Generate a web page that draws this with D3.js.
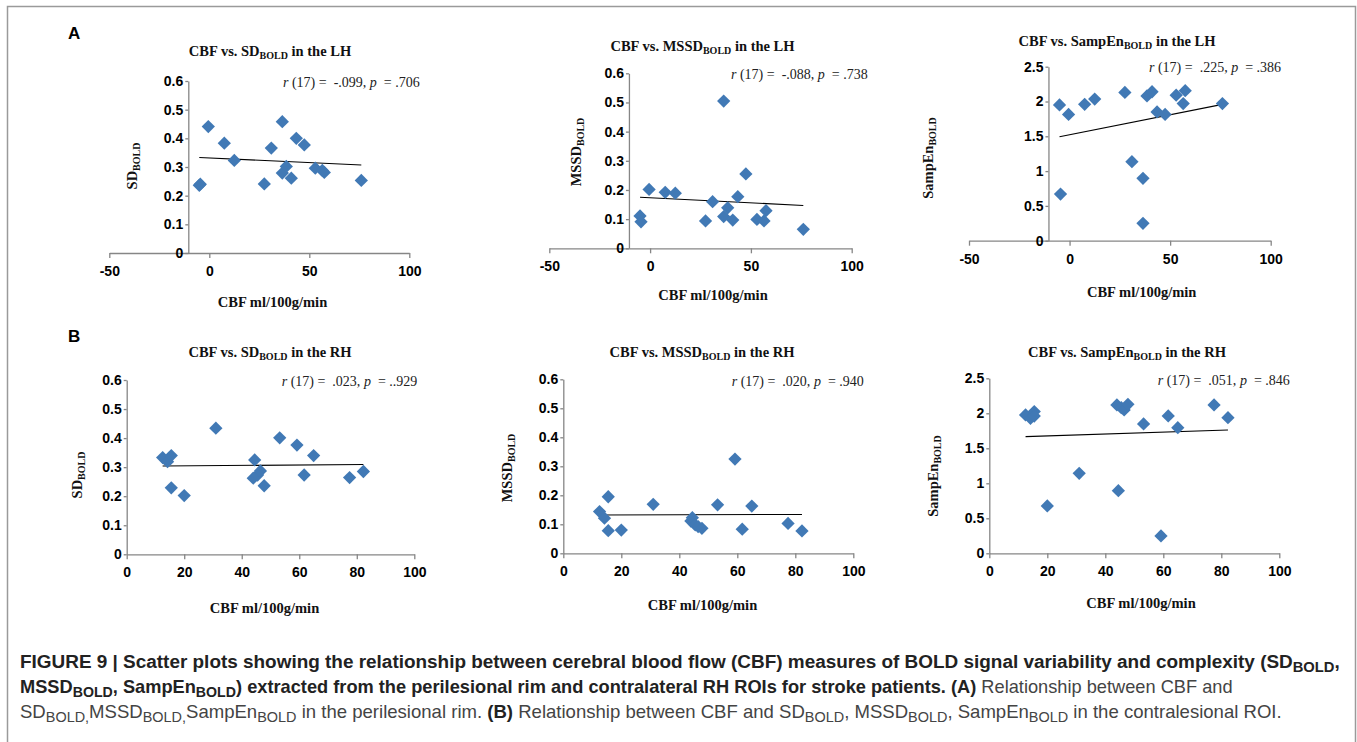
<!DOCTYPE html>
<html>
<head>
<meta charset="utf-8">
<script src="https://cdnjs.cloudflare.com/ajax/libs/d3/7.8.5/d3.min.js"></script>
<style>
  body { margin: 0; background: #fff; overflow: hidden; }
  svg { display: block; }
  .serif { font-family: "Liberation Serif", "Times New Roman", serif; }
  .sans { font-family: "Liberation Sans", Arial, sans-serif; }
</style>
</head>
<body>
<script>
// CBF (ml/100g/min) por paciente, hemisferio izquierdo y derecho
const cbfLH = [-5, -4.5, -0.5, 7.5, 12.5, 27.5, 31, 36.5, 36.5, 38.5, 41, 43.5, 47.5, 53, 56.5, 57.5, 76];
const sdLH = [0.236, 0.240, 0.441, 0.383, 0.323, 0.241, 0.366, 0.458, 0.279, 0.302, 0.261, 0.400, 0.377, 0.296, 0.288, 0.281, 0.253];
const mssdLH = [0.111, 0.091, 0.202, 0.192, 0.189, 0.094, 0.160, 0.505, 0.109, 0.139, 0.097, 0.177, 0.255, 0.099, 0.094, 0.129, 0.065];
const sampEnLH = [1.95, 0.67, 1.815, 1.96, 2.035, 2.13, 1.135, 0.896, 0.249, 2.08, 2.14, 1.85, 1.815, 2.09, 1.97, 2.155, 1.97];

const cbfRH = [12.5, 14.2, 15.5, 15.5, 20, 31, 44, 44.5, 45.5, 46.5, 47.8, 53.2, 59.2, 61.7, 65, 77.5, 82.3];
const sdRH = [0.333, 0.319, 0.340, 0.229, 0.202, 0.434, 0.262, 0.325, 0.273, 0.287, 0.236, 0.401, 0.376, 0.273, 0.340, 0.264, 0.285];
const mssdRH = [0.144, 0.121, 0.195, 0.078, 0.080, 0.169, 0.111, 0.123, 0.098, 0.092, 0.086, 0.167, 0.325, 0.083, 0.163, 0.103, 0.077];
const sampEnRH = [1.976, 1.929, 2.024, 1.96, 0.676, 1.143, 2.119, 0.895, 2.08, 2.048, 2.129, 1.848, 0.248, 1.962, 1.795, 2.119, 1.938];

// lineas de tendencia (valor en el CBF minimo y maximo)
const trendSdLH = [0.333, 0.307];
const trendMssdLH = [0.175, 0.147];
const trendSampEnLH = [1.494, 1.959];
const trendSdRH = [0.304, 0.309];
const trendMssdRH = [0.132, 0.134];
const trendSampEnRH = [1.667, 1.762];

// correlaciones
const rLabels = ['-.099', '-.088', '.225', '.023', '.020', '.051'];
const pLabels = ['.706', '.738', '.386', '..929', '.940', '.846'];

// ticks
const ticksCbfLH = [-50, 0, 50, 100];
const ticksCbfRH = [0, 20, 40, 60, 80, 100];
const ticksVar = [0, 0.1, 0.2, 0.3, 0.4, 0.5, 0.6];
const ticksSampEn = [0, 0.5, 1, 1.5, 2, 2.5];

const W = 1357, H = 742;
const blue = '#4179b5';
const axisColor = '#868686';

// posiciones de cada panel en la pagina
const layout = [
    { xRange: [109.3, 409.3], yRange: [253, 81], title: [270, 51], corr: [283, 82], yTitle: [131.7, 166], xTitle: [272.5, 302] },
    { xRange: [549.3, 851.7], yRange: [248.3, 73.3], title: [702.5, 46], corr: [731, 74.3], yTitle: [576, 152], xTitle: [713, 295] },
    { xRange: [969, 1270.7], yRange: [240.7, 66.7], title: [1117, 41], corr: [1149, 66.7], yTitle: [928.3, 158], xTitle: [1141.7, 291.7] },
    { xRange: [126.7, 414.3], yRange: [554.3, 380], title: [270, 352], corr: [281.7, 380.7], yTitle: [77.3, 475], xTitle: [264.5, 608.3] },
    { xRange: [563.3, 853.3], yRange: [553.3, 379.3], title: [702, 351.7], corr: [731.7, 380.7], yTitle: [507.3, 468], xTitle: [702.5, 605] },
    { xRange: [989.3, 1279.3], yRange: [553.3, 378.3], title: [1127, 351.7], corr: [1157.7, 380], yTitle: [933.3, 476], xTitle: [1141, 603.3] }
];

const panels = [
    { cbf: cbfLH, vals: sdLH, trend: trendSdLH, yTicks: ticksVar, xTicks: ticksCbfLH, yAxisAt: -10.5, measure: 'SD', hemi: 'LH' },
    { cbf: cbfLH, vals: mssdLH, trend: trendMssdLH, yTicks: ticksVar, xTicks: ticksCbfLH, yAxisAt: -10.5, measure: 'MSSD', hemi: 'LH' },
    { cbf: cbfLH, vals: sampEnLH, trend: trendSampEnLH, yTicks: ticksSampEn, xTicks: ticksCbfLH, yAxisAt: -10.5, measure: 'SampEn', hemi: 'LH' },
    { cbf: cbfRH, vals: sdRH, trend: trendSdRH, yTicks: ticksVar, xTicks: ticksCbfRH, yAxisAt: 0, measure: 'SD', hemi: 'RH' },
    { cbf: cbfRH, vals: mssdRH, trend: trendMssdRH, yTicks: ticksVar, xTicks: ticksCbfRH, yAxisAt: 0, measure: 'MSSD', hemi: 'RH' },
    { cbf: cbfRH, vals: sampEnRH, trend: trendSampEnRH, yTicks: ticksSampEn, xTicks: ticksCbfRH, yAxisAt: 0, measure: 'SampEn', hemi: 'RH' }
];

const svg = d3.select('body').append('svg')
    .attr('width', W)
    .attr('height', H);

// marco de la figura
svg.append('rect')
    .attr('x', 7.5).attr('y', 6.5)
    .attr('width', 1348).attr('height', 800)
    .attr('fill', 'none')
    .attr('stroke', '#9a9a9a')
    .attr('stroke-width', 1.5);

// texto con subindices
const addRich = (text, parts, subSize, subDy) => {
    let down = false;
    parts.forEach(p => {
        const ts = text.append('tspan').text(p.t);
        if (p.sub) ts.attr('font-size', subSize);
        if (p.sub && !down) { ts.attr('dy', subDy); down = true; }
        else if (!p.sub && down) { ts.attr('dy', -subDy); down = false; }
        if (p.b) ts.attr('font-weight', 'bold');
        if (p.i) ts.attr('font-style', 'italic');
    });
};

const drawPanel = (p, i) => {
    const box = layout[i];
    const yMax = p.yTicks[p.yTicks.length - 1];

    const x = d3.scaleLinear()
        .domain([p.xTicks[0], p.xTicks[p.xTicks.length - 1]])
        .range(box.xRange);
    const y = d3.scaleLinear()
        .domain([0, yMax])
        .range(box.yRange);

    const g = svg.append('g').attr('class', 'panel');

    const axisX = d3.axisBottom(x)
        .tickValues(p.xTicks)
        .tickSize(5)
        .tickSizeOuter(0)
        .tickPadding(8)
        .tickFormat(d => d);

    const axisY = d3.axisLeft(y)
        .tickValues(p.yTicks)
        .tickSize(3)
        .tickSizeOuter(0)
        .tickPadding(2)
        .tickFormat(d => String(d));

    const gx = g.append('g')
        .attr('transform', 'translate(0,' + y(0) + ')')
        .call(axisX);

    const gy = g.append('g')
        .attr('transform', 'translate(' + x(p.yAxisAt) + ',0)')
        .call(axisY);

    [gx, gy].forEach(a => {
        a.select('.domain').attr('stroke', axisColor).attr('stroke-width', 1.3);
        a.selectAll('.tick line').attr('stroke', axisColor).attr('stroke-width', 1.3);
        a.selectAll('.tick text')
            .attr('font-family', '"Liberation Sans", Arial, sans-serif')
            .attr('font-size', 14)
            .attr('font-weight', 'bold')
            .attr('fill', '#000');
    });

    // linea de tendencia
    const ext = d3.extent(p.cbf);
    g.append('line')
        .attr('x1', x(ext[0]))
        .attr('y1', y(p.trend[0]))
        .attr('x2', x(ext[1]))
        .attr('y2', y(p.trend[1]))
        .attr('stroke', '#000')
        .attr('stroke-width', 1.1);

    // puntos (rombos)
    const diamond = d3.symbol().type(d3.symbolSquare).size(88);
    g.selectAll('.pt')
        .data(p.cbf.map((c, k) => ({ c: c, v: p.vals[k] })))
        .enter()
        .append('path')
        .attr('class', 'pt')
        .attr('d', diamond)
        .attr('transform', d => 'translate(' + x(d.c) + ',' + y(d.v) + ') rotate(45)')
        .attr('fill', blue);

    // titulo
    const title = g.append('text')
        .attr('class', 'serif')
        .attr('x', box.title[0]).attr('y', box.title[1])
        .attr('dy', '0.35em')
        .attr('text-anchor', 'middle')
        .attr('font-size', 14.5)
        .attr('font-weight', 'bold')
        .attr('fill', '#111');
    addRich(title, [
        { t: 'CBF vs. ' + p.measure },
        { t: 'BOLD', sub: true },
        { t: ' in the ' + p.hemi }
    ], 10, 3);

    // correlacion
    const corr = g.append('text')
        .attr('class', 'serif')
        .attr('x', box.corr[0]).attr('y', box.corr[1])
        .attr('dy', '0.35em')
        .attr('font-size', 14)
        .attr('fill', '#222')
        .style('white-space', 'pre');
    addRich(corr, [
        { t: 'r', i: true },
        { t: ' (17) =  ' + rLabels[i] + ', ' },
        { t: 'p', i: true },
        { t: '  = ' + pLabels[i] }
    ], 10, 3);

    // eje y
    const yt = g.append('text')
        .attr('class', 'serif')
        .attr('transform', 'translate(' + box.yTitle[0] + ',' + box.yTitle[1] + ') rotate(-90)')
        .attr('dy', '0.35em')
        .attr('text-anchor', 'middle')
        .attr('font-size', 14.5)
        .attr('font-weight', 'bold')
        .attr('fill', '#111');
    addRich(yt, [
        { t: p.measure },
        { t: 'BOLD', sub: true }
    ], 10, 3);

    // eje x
    g.append('text')
        .attr('class', 'serif')
        .attr('x', box.xTitle[0]).attr('y', box.xTitle[1])
        .attr('dy', '0.35em')
        .attr('text-anchor', 'middle')
        .attr('font-size', 14.5)
        .attr('font-weight', 'bold')
        .attr('fill', '#111')
        .text('CBF ml/100g/min');
};

panels.forEach(drawPanel);

// letras de panel
[['A', 33.5], ['B', 336]].forEach(l => {
    svg.append('text')
        .attr('class', 'sans')
        .attr('x', 68).attr('y', l[1])
        .attr('dy', '0.35em')
        .attr('font-size', 17)
        .attr('font-weight', 'bold')
        .attr('fill', '#000')
        .text(l[0]);
});

// pie de figura
const captionLines = [
    { y: 668, w: 1320, parts: [
        { t: 'FIGURE 9 | Scatter plots showing the relationship between cerebral blood flow (CBF) measures of BOLD signal variability and complexity (SD', b: true },
        { t: 'BOLD', sub: true, b: true },
        { t: ',', b: true }
    ] },
    { y: 693, w: 1213, parts: [
        { t: 'MSSD', b: true },
        { t: 'BOLD', sub: true, b: true },
        { t: ', SampEn', b: true },
        { t: 'BOLD', sub: true, b: true },
        { t: ') extracted from the perilesional rim and contralateral RH ROIs for stroke patients. (A)', b: true },
        { t: ' Relationship between CBF and' }
    ] },
    { y: 718, w: 1263, parts: [
        { t: 'SD' },
        { t: 'BOLD,', sub: true },
        { t: 'MSSD' },
        { t: 'BOLD,', sub: true },
        { t: 'SampEn' },
        { t: 'BOLD', sub: true },
        { t: ' in the perilesional rim. ' },
        { t: '(B)', b: true },
        { t: ' Relationship between CBF and SD' },
        { t: 'BOLD', sub: true },
        { t: ', MSSD' },
        { t: 'BOLD', sub: true },
        { t: ', SampEn' },
        { t: 'BOLD', sub: true },
        { t: ' in the contralesional ROI.' }
    ] }
];

captionLines.forEach(line => {
    const t = svg.append('text')
        .attr('font-family', '"Liberation Sans", Arial, sans-serif')
        .attr('font-size', 18)
        .attr('fill', '#444')
        .style('white-space', 'pre');
    addRich(t, line.parts, 14, 4);
    t.selectAll('tspan').filter(function () { return d3.select(this).attr('font-weight') === 'bold'; })
        .attr('fill', '#222');
    const bw = t.node().getBBox().width;
    t.attr('transform', 'translate(20,' + line.y + ') scale(' + (line.w / bw) + ',1)');
});
</script>
</body>
</html>
